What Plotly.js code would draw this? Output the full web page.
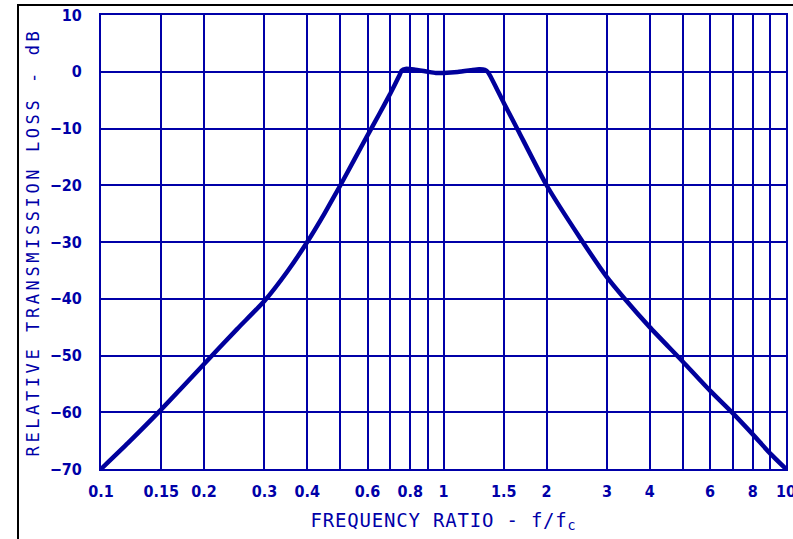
<!DOCTYPE html>
<html>
<head>
<meta charset="utf-8">
<script src="https://cdn.plot.ly/plotly-3.0.1.min.js"></script>
<style>
  html, body { margin: 0; padding: 0; background: #ffffff; }
  #wrap { position: relative; width: 793px; height: 539px; overflow: hidden; }
  #chart { position: absolute; left: 0; top: 0; width: 793px; height: 539px; }
  #frame { position: absolute; left: 17px; top: 4px; width: 800px; height: 600px;
           border-top: 2px solid #000; border-left: 2px solid #000; pointer-events: none; }
  .ytitle { letter-spacing: 3.6px; }
  .xtitle { letter-spacing: 0.8px; }
</style>
</head>
<body>
<div id="wrap">
  <div id="chart"></div>
  <div id="frame"></div>
</div>
<script>
// Frequency ratio f/fc and relative transmission loss (dB)
const freqRatio = [0.1, 0.12, 0.15, 0.2, 0.25, 0.3, 0.35, 0.4, 0.45, 0.5, 0.55, 0.6, 0.65, 0.7, 0.74, 0.755, 0.775, 0.82, 0.9, 0.95, 1.0, 1.1, 1.2, 1.27, 1.32, 1.35, 1.5, 1.65, 2.0, 2.5, 3.0, 3.38, 4.0, 5.0, 6.0, 7.0, 8.0, 9.0, 10];
const lossDb = [-70, -65.4, -59.5, -51.5, -45.3, -40.4, -35.2, -30, -24.9, -20, -15.4, -11.2, -7.4, -3.8, -0.9, 0.2, 0.5, 0.4, 0.0, -0.2, -0.2, -0.05, 0.25, 0.45, 0.35, -0.1, -5.5, -10.3, -20, -29.2, -36.2, -40, -45, -51.1, -56.2, -60.2, -63.9, -67.3, -70];

// labelled x-axis ticks (major gridlines)
const xTickValues = [0.1, 0.15, 0.2, 0.3, 0.4, 0.6, 0.8, 1, 1.5, 2, 3, 4, 6, 8, 10];
const xTickLabels = ["0.1", "0.15", "0.2", "0.3", "0.4", "0.6", "0.8", "1", "1.5", "2", "3", "4", "6", "8", "10"];
// unlabelled x gridlines
const xExtraGrid = [0.5, 0.7, 0.9, 5, 7, 9];

// y-axis ticks
const yTickValues = [-70, -60, -50, -40, -30, -20, -10, 0, 10];
const yTickLabels = ["\u221270", "\u221260", "\u221250", "\u221240", "\u221230", "\u221220", "\u221210", "0", "10"];

const blue = '#0000a8';
const curveBlue = '#00009c';
const tickFont = { family: '"Liberation Sans Narrow", "DejaVu Sans Condensed", "Liberation Sans", sans-serif', size: 16, color: blue, weight: 'bold' };
const titleFontFamily = '"DejaVu Sans Mono", "Liberation Mono", monospace';

const trace = {
  x: freqRatio,
  y: lossDb,
  type: 'scatter',
  mode: 'lines',
  line: { color: curveBlue, width: 4.5, shape: 'spline', smoothing: 0.5 },
  hoverinfo: 'skip'
};

const layout = {
  width: 793,
  height: 539,
  margin: { l: 101, r: 7, t: 15, b: 70, pad: 0 },
  paper_bgcolor: '#ffffff',
  plot_bgcolor: '#ffffff',
  showlegend: false,
  xaxis: {
    type: 'log',
    range: [-1, 1],
    tickmode: 'array',
    tickvals: xTickValues,
    ticktext: xTickLabels,
    showgrid: true,
    gridcolor: blue,
    gridwidth: 2,
    minor: { tickmode: 'array', tickvals: xExtraGrid, showgrid: true, gridcolor: blue, gridwidth: 2, ticks: '' },
    showline: true,
    linecolor: blue,
    linewidth: 2,
    mirror: true,
    ticks: '',
    ticklabelstandoff: 7,
    ticklabeloverflow: 'allow',
    tickfont: tickFont,
    zeroline: false,
    automargin: false,
    title: {
      text: 'FREQUENCY RATIO - f/f<sub>c</sub>',
      font: { family: titleFontFamily, size: 19, color: blue },
      standoff: 13
    }
  },
  yaxis: {
    range: [-70, 10],
    tickmode: 'array',
    tickvals: yTickValues,
    ticktext: yTickLabels,
    showgrid: true,
    gridcolor: blue,
    gridwidth: 2,
    showline: true,
    linecolor: blue,
    linewidth: 2,
    mirror: true,
    ticks: '',
    ticklabelstandoff: 14,
    ticklabeloverflow: 'allow',
    tickfont: tickFont,
    zeroline: false,
    automargin: false,
    title: {
      text: 'RELATIVE TRANSMISSION LOSS - dB',
      font: { family: titleFontFamily, size: 17, color: blue },
      standoff: 6
    }
  }
};

Plotly.newPlot('chart', [trace], layout, { displayModeBar: false, staticPlot: true });
</script>
</body>
</html>
